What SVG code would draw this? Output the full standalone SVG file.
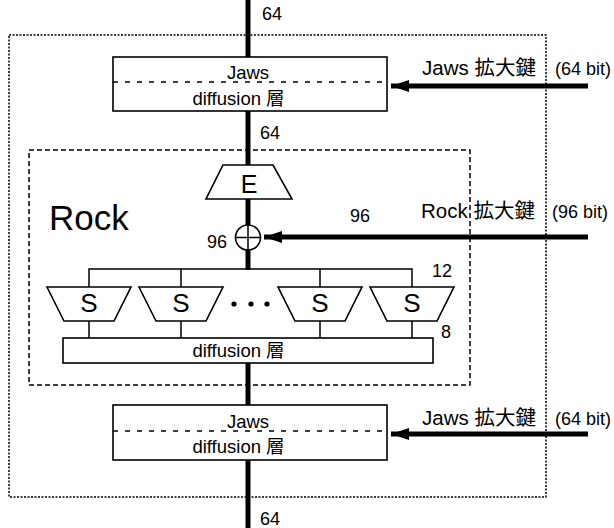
<svg xmlns="http://www.w3.org/2000/svg" width="614" height="528" viewBox="0 0 614 528">
<style>
text{font-family:"Liberation Sans","Noto Sans CJK JP",sans-serif;fill:#000}
.box{fill:#fff;stroke:#000;stroke-width:1.6}
.thick{stroke:#000;stroke-width:5;fill:none}
.thin{stroke:#000;stroke-width:1.5;fill:none}
.lbl{font-size:18px}
.in{font-size:18.5px}
.key{font-size:20.5px}
.mid{text-anchor:middle}
</style>
<defs>
<marker id="ah" markerUnits="userSpaceOnUse" markerWidth="20" markerHeight="14" refX="18" refY="7" orient="auto">
<path d="M0,1 L18,7 L0,13 Z" fill="#000"/>
</marker>
</defs>
<rect x="9" y="35" width="537" height="462" fill="none" stroke="#000" stroke-width="1.5" stroke-dasharray="2,1.5"/>
<rect x="29" y="150" width="441" height="235" fill="none" stroke="#000" stroke-width="1.5" stroke-dasharray="5,3"/>
<g id="connectors">
<line class="thick" x1="248" y1="0" x2="248" y2="57"/>
<line class="thick" x1="248" y1="111" x2="248" y2="165"/>
<line class="thick" x1="248" y1="199" x2="248" y2="225"/>
<line class="thick" x1="248" y1="250" x2="248" y2="270"/>
<line class="thick" x1="248" y1="363" x2="248" y2="405"/>
<line class="thick" x1="248" y1="460" x2="248" y2="528"/>
<path class="thin" d="M89,287 V269 H412 V287 M181,269 V287 M320,269 V287"/>
<path class="thin" d="M89,321 V338 M181,321 V338 M320,321 V338 M412,321 V338"/>
<line class="thick" x1="588" y1="86" x2="391" y2="86" marker-end="url(#ah)"/>
<line class="thick" x1="588" y1="237" x2="264" y2="237" marker-end="url(#ah)"/>
<line class="thick" x1="588" y1="434" x2="391" y2="434" marker-end="url(#ah)"/>
</g>
<g id="jaws1">
<rect class="box" x="113" y="57" width="274" height="54"/>
<line x1="113" y1="82" x2="387" y2="82" stroke="#000" stroke-width="1.5" stroke-dasharray="5,7"/>
<text class="mid in" x="248" y="79">Jaws</text>
<text class="mid in" x="238.5" y="105">diffusion 層</text>
</g>
<g id="E">
<path class="box" d="M223,165 H273 L292,199 H206 Z"/>
<text class="mid" x="249" y="193" font-size="25">E</text>
</g>
<g id="xor">
<circle cx="248" cy="237.5" r="12.5" fill="#fff" stroke="#000" stroke-width="1.6"/>
<path class="thin" d="M248,225 V250 M235.5,237.5 H260.5"/>
</g>
<g id="S1"><path class="box" d="M47,287 H131 L114,321 H64 Z"/><text class="mid" x="89" y="312" font-size="26">S</text></g>
<g id="S2"><path class="box" d="M139,287 H223 L206,321 H156 Z"/><text class="mid" x="181" y="312" font-size="26">S</text></g>
<g id="S3"><path class="box" d="M278,287 H362 L345,321 H295 Z"/><text class="mid" x="320" y="312" font-size="26">S</text></g>
<g id="S4"><path class="box" d="M370,287 H454 L437,321 H387 Z"/><text class="mid" x="412" y="312" font-size="26">S</text></g>
<g id="dots"><circle cx="234" cy="304" r="2.6"/><circle cx="251" cy="304" r="2.6"/><circle cx="267" cy="304" r="2.6"/></g>
<g id="rockdiff">
<rect class="box" x="63" y="338" width="370" height="25"/>
<text class="mid in" x="238.5" y="357">diffusion 層</text>
</g>
<g id="jaws2">
<rect class="box" x="113" y="405" width="274" height="55"/>
<line x1="113" y1="431" x2="387" y2="431" stroke="#000" stroke-width="1.5" stroke-dasharray="5,7"/>
<text class="mid in" x="248" y="428">Jaws</text>
<text class="mid in" x="238.5" y="453">diffusion 層</text>
</g>
<g id="labels">
<text class="lbl" x="262" y="20">64</text>
<text class="lbl" x="260" y="139">64</text>
<text class="lbl" x="260" y="525">64</text>
<text x="49" y="230" font-size="35">Rock</text>
<text class="lbl" x="350" y="222">96</text>
<text class="lbl" x="207" y="248">96</text>
<text class="lbl" x="432" y="277">12</text>
<text class="lbl" x="441" y="338">8</text>
<text class="key" x="422" y="75">Jaws 拡大鍵</text>
<text class="lbl" x="555" y="75">(64 bit)</text>
<text class="key" x="421" y="218">Rock 拡大鍵</text>
<text class="lbl" x="552" y="218">(96 bit)</text>
<text class="key" x="422" y="425">Jaws 拡大鍵</text>
<text class="lbl" x="555" y="425">(64 bit)</text>
</g>
</svg>
